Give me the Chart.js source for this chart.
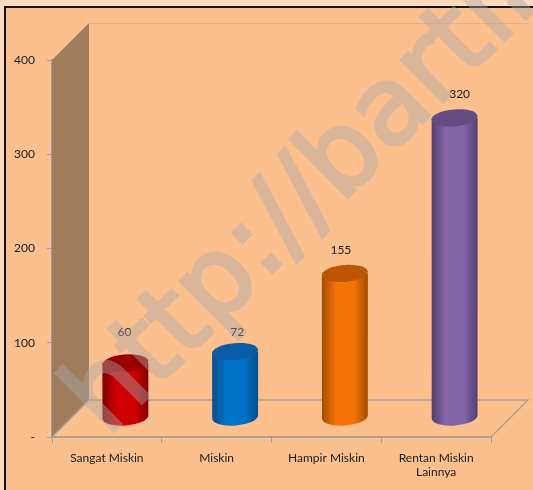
<!DOCTYPE html>
<html><head><meta charset="utf-8">
<style>
html,body{margin:0;padding:0;background:#FEDABD;overflow:hidden;}
#frame{position:absolute;left:4px;top:6px;width:529px;height:484px;box-sizing:border-box;border-left:2px solid #111;border-top:2px solid #111;background:#FCC08E;}
#wrap{position:absolute;left:0;top:0;width:533px;height:490px;}
#mark{position:absolute;left:0;top:0;width:533px;height:490px;pointer-events:none;}
</style>
<script src="https://cdn.jsdelivr.net/npm/chart.js@4"></script>
</head><body>
<div id="frame"></div>
<div id="wrap"><canvas id="c" width="533" height="490"></canvas></div>
<svg id="mark" width="533" height="490" viewBox="0 0 533 490"><g opacity="0.42"><text id="markText" transform="translate(107,438) rotate(-45)" font-family="DejaVu Sans" font-size="108" fill="#aaaaaa" stroke="#aaaaaa" stroke-width="3.5"></text></g></svg>
<script>
const categories = ["Sangat Miskin","Miskin","Hampir Miskin",["Rentan Miskin","Lainnya"]];
const values = [60,72,155,320];
const bodyColors = ["#CE0000","#0072C6","#F57206","#8464A8"];
const edgeColors = ["#7E0000","#0A4E8C","#A04E04","#54406E"];
const capColors = ["#980000","#0A5CA6","#BC5604","#624C80"];
const yTicks = [0,100,200,300,400];
const watermark = "http://bartll";
const depth = 37, bar3dShift = 18.5, rx = 23, ry = 8.5;
const labelNudgeX = [-1,2,-4,5], labelGap = [31,20,23,24];
const FONT = 'Lato,"Liberation Sans"';
document.getElementById('markText').textContent = watermark;

const scene = {
  id:'scene',
  beforeDatasetsDraw(chart){
    const {ctx,chartArea:a} = chart;
    ctx.save();
    ctx.fillStyle='#9E7C5C';
    ctx.beginPath();ctx.moveTo(a.left,a.top);ctx.lineTo(a.left+depth,a.top-depth);ctx.lineTo(a.left+depth,a.bottom-depth);ctx.lineTo(a.left,a.bottom);ctx.closePath();ctx.fill();
    ctx.strokeStyle='#E6B084';ctx.lineWidth=1;
    ctx.beginPath();ctx.moveTo(a.left+depth,a.top-depth+.5);ctx.lineTo(a.right+depth,a.top-depth+.5);ctx.stroke();
    ctx.strokeStyle='#ADA08F';ctx.lineWidth=1.5;
    ctx.beginPath();ctx.moveTo(a.left,a.bottom);ctx.lineTo(a.left+depth,a.bottom-depth);ctx.lineTo(a.right+depth,a.bottom-depth);ctx.lineTo(a.right,a.bottom);ctx.stroke();
    ctx.restore();
  },
  afterDatasetsDraw(chart){
    const {ctx} = chart;
    const bars = chart.getDatasetMeta(0).data;
    bars.forEach((b,i)=>{
      const cx=b.x+bar3dShift, top=b.y-bar3dShift+1, base=b.base-bar3dShift-1;
      const g=ctx.createLinearGradient(cx-rx,0,cx+rx,0);
      g.addColorStop(0,edgeColors[i]);g.addColorStop(.3,bodyColors[i]);g.addColorStop(.7,bodyColors[i]);g.addColorStop(1,edgeColors[i]);
      const tilt=-0.08;
      ctx.save();
      ctx.fillStyle=g;
      ctx.beginPath();
      ctx.ellipse(cx,base,rx,ry,tilt,0,Math.PI);
      ctx.lineTo(cx-rx,top);
      ctx.lineTo(cx+rx,top);
      ctx.closePath();ctx.fill();
      ctx.fillStyle=capColors[i];
      ctx.beginPath();ctx.ellipse(cx,top,rx,ry,tilt,0,Math.PI*2);ctx.fill();
      ctx.fillStyle='#1a1a1a';
      ctx.font='12px '+FONT;
      ctx.textAlign='center';ctx.textBaseline='middle';
      ctx.fillText(String(values[i]),cx+labelNudgeX[i],top-labelGap[i]);
      ctx.restore();
    });
  }
};

new Chart(document.getElementById('c'),{
  type:'bar',
  data:{labels:categories,datasets:[{data:values,backgroundColor:'transparent',barPercentage:.42,categoryPercentage:1}]},
  plugins:[scene],
  options:{
    responsive:false,animation:false,
    layout:{padding:{left:0,top:60,right:42,bottom:0}},
    plugins:{legend:{display:false},tooltip:{enabled:false}},
    scales:{
      x:{
        afterFit(s){s.height=53;},
        grid:{drawOnChartArea:false,color:'#9AA0A4',tickLength:6,offset:true},
        border:{color:'#ADA08F',width:2},
        ticks:{color:'#1a1a1a',padding:8,maxRotation:0,autoSkip:false,font:{family:FONT,size:12}}
      },
      y:{
        min:0,max:400,
        afterFit(s){s.width=52;},
        afterBuildTicks(s){s.ticks=yTicks.map(v=>({value:v}));},
        grid:{drawOnChartArea:false,color:'#9AA0A4',tickLength:5},
        border:{color:'#9AA0A4',width:2},
        ticks:{color:'#1a1a1a',padding:12,font:{family:FONT,size:12},callback:v=>v===0?'-':String(v)}
      }
    }
  }
});
</script>
</body></html>
